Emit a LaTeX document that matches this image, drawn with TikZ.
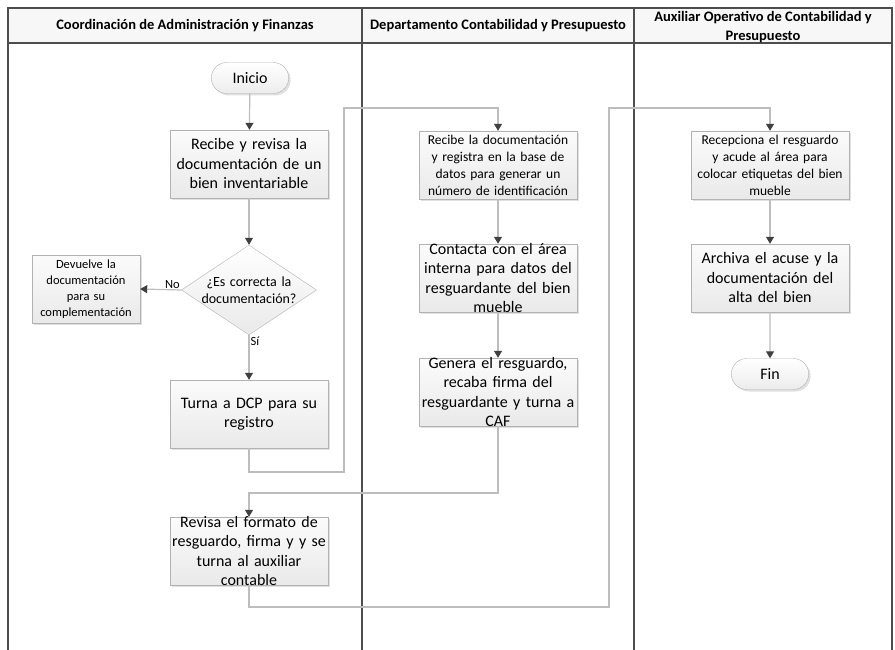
\documentclass[tikz,border=0pt]{standalone}
\usepackage{fontspec}
\setmainfont{Carlito}
\usetikzlibrary{arrows.meta,shapes.geometric,shapes.misc,shadows}
\definecolor{lineagris}{HTML}{BDBDBD}
\definecolor{puntagris}{HTML}{404040}
\definecolor{marco}{HTML}{4D4D4D}
\definecolor{cabecera}{HTML}{F7F7F7}

\begin{document}
\begin{tikzpicture}[x=1pt, y=-1pt,
  paso/.style={draw=gray!60, top color=gray!3, bottom color=gray!17,
               drop shadow={shadow xshift=2pt, shadow yshift=-2pt, fill=gray!60, opacity=.4},
               minimum width=158pt, minimum height=68pt, text width=154pt,
               align=center, inner sep=0pt, font=\fontsize{16}{19.5}\selectfont},
  pasochico/.style={paso, font=\fontsize{13.5}{17}\selectfont},
  pasolleno/.style={paso, inner ysep=-3pt},
  extremo/.style={rounded rectangle, draw=gray!60, top color=white, bottom color=gray!15,
                  drop shadow={shadow xshift=2pt, shadow yshift=-2pt, fill=gray!60, opacity=.4},
                  minimum width=84pt, minimum height=31pt, font=\fontsize{16}{19}\selectfont},
  decision/.style={diamond, draw=gray!60, top color=white, bottom color=gray!17,
                   aspect=1.5, minimum width=135pt, minimum height=90pt, text width=98pt,
                   inner sep=-4pt, align=center, font=\fontsize{14}{17}\selectfont},
  encabezado/.style={font=\bfseries\fontsize{14.5}{19}\selectfont, align=center},
  etiqueta/.style={font=\fontsize{12.5}{15}\selectfont, inner sep=1pt},
  flujo/.style={draw=lineagris, line width=1.2pt,
                -{Triangle[width=8pt,length=7pt,color=puntagris]}},
  carril/.style={draw=marco, line width=1.3pt}
]
\useasboundingbox (0,0) rectangle (895,650);

\draw[carril, fill=cabecera] (8,8) rectangle (892,43);
\foreach \x in {8,362,634,892}
  \draw[carril] (\x,8) -- (\x,650);
\node[encabezado] (caf)  at (185,26) {Coordinación de Administración y Finanzas};
\node[encabezado] (dcp)  at (498,26) {Departamento Contabilidad y Presupuesto};
\node[encabezado] (aux)  at (763,27) {Auxiliar Operativo de Contabilidad y\\Presupuesto};

\node[extremo]   (inicio)   at (250,78)  {Inicio};
\node[paso]      (recibe)   at (249,164) {Recibe y revisa la\\documentación de un\\bien inventariable};
\node[decision]  (correcta) at (249,290) {¿Es correcta la\\documentación?};
\node[pasochico, minimum width=108pt, text width=104pt, font=\fontsize{12.5}{16}\selectfont]
                 (devuelve) at (86,289)  {Devuelve la\\documentación\\para su\\complementación};
\node[paso]      (turna)    at (249,414) {Turna a DCP para su\\registro};
\node[pasolleno] (revisa)   at (249,551) {Revisa el formato de\\resguardo, firma y y se\\turna al auxiliar\\contable};

\node[pasochico] (registra) at (498,165) {Recibe la documentación\\y registra en la base de\\datos para generar un\\número de identificación};
\node[pasolleno] (contacta) at (498,278) {Contacta con el área\\interna para datos del\\resguardante del bien\\mueble};
\node[pasolleno] (genera)   at (498,392) {Genera el resguardo,\\recaba firma del\\resguardante y turna a\\CAF};

\node[pasochico] (recepciona) at (770,165) {Recepciona el resguardo\\y acude al área para\\colocar etiquetas del bien\\mueble};
\node[paso]      (archiva)    at (770,278) {Archiva el acuse y la\\documentación del\\alta del bien};
\node[extremo]   (fin)        at (770,374) {Fin};

\coordinate (baja1)  at (344,472);
\coordinate (sube1)  at (344,108);
\coordinate (baja2)  at (498,493);
\coordinate (baja3)  at (609,607);
\coordinate (sube3)  at (609,108);

\draw[flujo] (inicio) -- (recibe);
\draw[flujo] (recibe) -- (correcta);
\draw[flujo] (correcta.west) -- node[etiqueta, anchor=south east, pos=0]{No} (devuelve.east);
\draw[flujo] (correcta.south) -- node[etiqueta, anchor=north west, pos=0]{Sí} (turna.north);
\draw[flujo] (turna.south) |- (baja1) -- (sube1) -| (registra.north);
\draw[flujo] (registra) -- (contacta);
\draw[flujo] (contacta) -- (genera);
\draw[flujo] (genera.south) -- (baja2) -| (revisa.north);
\draw[flujo] (revisa.south) |- (baja3) -- (sube3) -| (recepciona.north);
\draw[flujo] (recepciona) -- (archiva);
\draw[flujo] (archiva) -- (fin);
\end{tikzpicture}
\end{document}
